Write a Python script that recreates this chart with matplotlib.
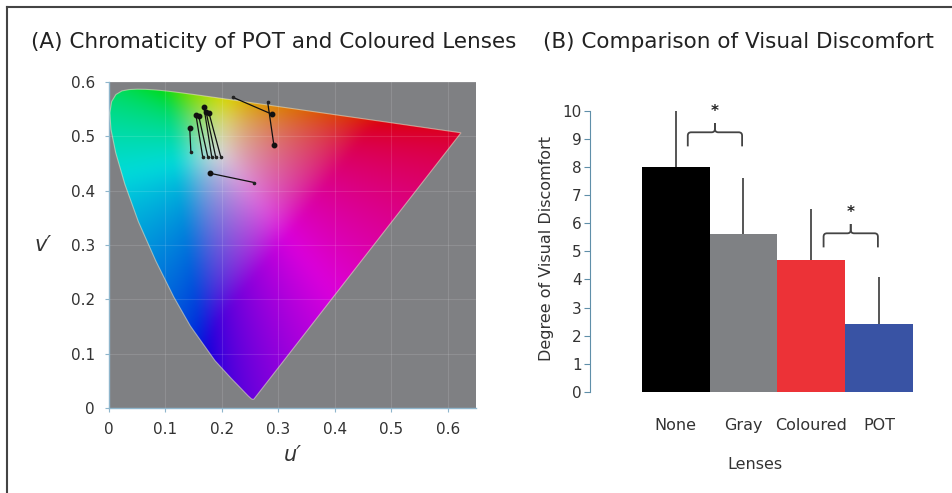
import numpy as np
import matplotlib
matplotlib.use('Agg')
from matplotlib import pyplot as plt
from matplotlib.patches import Polygon, PathPatch
from matplotlib.path import Path
from matplotlib.lines import Line2D

# CIE 1931 2-degree spectral locus (x, y), 380-700 nm
locus_x = [0.1741, 0.1738, 0.1733, 0.1726, 0.1714, 0.1689, 0.1644, 0.1566, 0.1440,
           0.1241, 0.1096, 0.0913, 0.0687, 0.0454, 0.0235, 0.0082, 0.0039, 0.0139,
           0.0389, 0.0743, 0.1142, 0.1547, 0.1929, 0.2296, 0.2658, 0.3016, 0.3373,
           0.3731, 0.4087, 0.4441, 0.4788, 0.5125, 0.5448, 0.5752, 0.6029, 0.6270,
           0.6658, 0.6915, 0.7079, 0.7190, 0.7260, 0.7300, 0.7334, 0.7347]
locus_y = [0.0050, 0.0049, 0.0048, 0.0048, 0.0051, 0.0069, 0.0109, 0.0177, 0.0297,
           0.0578, 0.0868, 0.1327, 0.2007, 0.2950, 0.4127, 0.5384, 0.6548, 0.7502,
           0.8120, 0.8338, 0.8262, 0.8059, 0.7816, 0.7543, 0.7243, 0.6923, 0.6589,
           0.6245, 0.5896, 0.5547, 0.5202, 0.4866, 0.4544, 0.4242, 0.3965, 0.3725,
           0.3340, 0.3083, 0.2920, 0.2809, 0.2740, 0.2700, 0.2666, 0.2653]

# lens chromaticities (u', v'): big dot end and the other end of each line
dot_u = [0.143, 0.154, 0.159, 0.168, 0.172, 0.177, 0.288, 0.292, 0.179]
dot_v = [0.515, 0.539, 0.537, 0.554, 0.545, 0.543, 0.541, 0.484, 0.432]
end_u = [0.145, 0.166, 0.175, 0.182, 0.189, 0.198, 0.219, 0.281, 0.257]
end_v = [0.471, 0.462, 0.462, 0.462, 0.462, 0.462, 0.572, 0.563, 0.415]

uv_ticks = [0, 0.1, 0.2, 0.3, 0.4, 0.5, 0.6]
uv_labels = ['0', '0.1', '0.2', '0.3', '0.4', '0.5', '0.6']

lenses = ['None', 'Gray', 'Coloured', 'POT']
discomfort = [8.0, 5.6, 4.7, 2.4]
discomfort_sd = [2.0, 2.0, 1.8, 1.7]
bar_colors = ['#000000', '#7f8184', '#ec3237', '#3953a4']
sig_pairs = [(0, 1), (2, 3)]
sig_level = [9.23, 5.64]

tick_col = '#333333'
axis_col = '#8fb6cc'

fig = plt.figure(figsize=(9.52, 4.93), dpi=100)

# ---------- (A) chromaticity diagram ----------
ax1 = fig.add_axes([109/952, 1 - 408/493, 367/952, 326/493])
ax1.set_facecolor('#7f8083')
ax1.set_xlim(0, 0.65)
ax1.set_ylim(0, 0.6)

lx = np.array(locus_x)
ly = np.array(locus_y)
den = -2*lx + 12*ly + 3
loc_u = 4*lx/den
loc_v = 9*ly/den

U, V = np.meshgrid(np.linspace(0, 0.65, 330), np.linspace(0, 0.6, 305))
d = 6*U - 16*V + 12
cx = 9*U/d
cy = np.maximum(4*V/d, 1e-3)
X = cx/cy
Z = (1 - cx - cy)/cy
M = np.array([[3.2406, -1.5372, -0.4986],
              [-0.9689, 1.8758, 0.0415],
              [0.0557, -0.2040, 1.0570]])
rgb = np.stack([M[i, 0]*X + M[i, 1] + M[i, 2]*Z for i in range(3)], axis=-1)
rgb = rgb - np.minimum(rgb.min(axis=-1, keepdims=True), 0)*0.3
rgb = np.clip(rgb, 0, None)
rgb = rgb/np.maximum(rgb.max(axis=-1, keepdims=True), 1e-9)

# soften the hard hue edges a bit
k = np.exp(-0.5*(np.arange(-18, 19)/7.0)**2)
k = k/k.sum()
def smooth(m):
    return np.convolve(np.pad(m, 18, mode='edge'), k, mode='valid')
for ax_i in (0, 1):
    rgb = np.apply_along_axis(smooth, ax_i, rgb)

rgb = np.clip(rgb, 0, 1)
rgb = np.where(rgb <= 0.0031308, 12.92*rgb, 1.055*rgb**(1/2.4) - 0.055)
rgb = np.clip(rgb, 0, 1)*0.86

gamut = Polygon(np.column_stack([loc_u, loc_v]), closed=True,
                facecolor='none', edgecolor='#f4f0d0', lw=0.8, alpha=0.5, zorder=3)
ax1.add_patch(gamut)
im = ax1.imshow(rgb, origin='lower', extent=(0, 0.65, 0, 0.6), aspect='auto',
                interpolation='bilinear', zorder=1)
im.set_clip_path(gamut)

for t in uv_ticks[1:]:
    ax1.axvline(t, color='white', lw=0.8, alpha=0.12, zorder=2)
    ax1.axhline(t, color='white', lw=0.8, alpha=0.12, zorder=2)

for i in range(len(dot_u)):
    ax1.plot([dot_u[i], end_u[i]], [dot_v[i], end_v[i]], color='#111111', lw=0.9, zorder=4)
ax1.plot(end_u, end_v, 'o', color='#222222', ms=1.6, zorder=5)
ax1.plot(dot_u, dot_v, 'o', color='#111111', ms=3.2, zorder=5)

ax1.set_xticks(uv_ticks)
ax1.set_xticklabels(uv_labels)
ax1.set_yticks(uv_ticks)
ax1.set_yticklabels(uv_labels)
ax1.tick_params(colors=axis_col, labelcolor=tick_col, labelsize=11, length=3)
ax1.tick_params(axis='x', pad=7)
ax1.tick_params(axis='y', pad=7)
for s in ['top', 'right']:
    ax1.spines[s].set_visible(False)
for s in ['bottom', 'left']:
    ax1.spines[s].set_color(axis_col)
    ax1.spines[s].set_linewidth(1.0)
ax1.set_xlabel("u\u2032", fontsize=15, style='italic', color=tick_col, labelpad=6)
ax1.set_ylabel("v\u2032", fontsize=15, style='italic', color=tick_col, rotation=0,
               labelpad=20, va='center')

# ---------- (B) visual discomfort ----------
ax2 = fig.add_axes([590/952, (493 - 392)/493, 330/952, 287/493])
pos = np.arange(len(lenses))
ax2.bar(pos, discomfort, width=1.0, color=bar_colors, zorder=2)
ax2.errorbar(pos, discomfort, yerr=[np.zeros(len(pos)), discomfort_sd], fmt='none',
             ecolor='#555555', elinewidth=1.4, capsize=0, zorder=3)
ax2.set_xlim(-1.26, 3.6)
ax2.set_ylim(0, 10.2)
ax2.set_yticks(range(0, 11))
ax2.set_xticks(pos)
ax2.set_xticklabels(lenses)
ax2.tick_params(axis='y', colors='#5f8fa9', labelcolor=tick_col, labelsize=11, length=4, pad=2)
ax2.tick_params(axis='x', length=0, labelsize=11.5, labelcolor=tick_col, pad=19)
for s in ['top', 'right', 'bottom']:
    ax2.spines[s].set_visible(False)
ax2.spines['left'].set_color('#5f8fa9')
ax2.spines['left'].set_bounds(0, 10)
ax2.set_ylabel('Degree of Visual Discomfort', fontsize=11.5, color=tick_col, labelpad=6)
ax2.set_xlabel('Lenses', fontsize=11.5, color=tick_col, labelpad=17)

for (i, j), h in zip(sig_pairs, sig_level):
    x0 = pos[i] + 0.18
    x1 = pos[j] - 0.02
    xm = (x0 + x1)/2
    for a, b in [(x0, 0.05), (x1, -0.05)]:
        verts = [(a, h - 0.5), (a, h - 0.12), (a, h), (a + b, h),
                 (xm - b, h), (xm, h), (xm, h + 0.12), (xm, h + 0.33)]
        codes = [Path.MOVETO, Path.LINETO, Path.CURVE3, Path.CURVE3,
                 Path.LINETO, Path.CURVE3, Path.CURVE3, Path.LINETO]
        ax2.add_patch(PathPatch(Path(verts, codes), fill=False, edgecolor='#444444',
                                lw=1.3, zorder=4))
    ax2.text(xm, h + 0.75, '*', ha='center', va='center', fontsize=11,
             fontweight='bold', color='#222222')

# ---------- titles and frame ----------
fig.text(31/952, 1 - 42/493, '(A) Chromaticity of POT and Coloured Lenses',
         fontsize=15.5, color='#222222', va='center', ha='left')
fig.text(543/952, 1 - 42/493, '(B) Comparison of Visual Discomfort',
         fontsize=15.5, color='#222222', va='center', ha='left')
fig.add_artist(Line2D([7/952, 7/952], [0, 1 - 7/493], color='#444444', lw=1.5))
fig.add_artist(Line2D([7/952, 1], [1 - 7/493, 1 - 7/493], color='#444444', lw=1.5))

fig.savefig('out.png', dpi=100)
